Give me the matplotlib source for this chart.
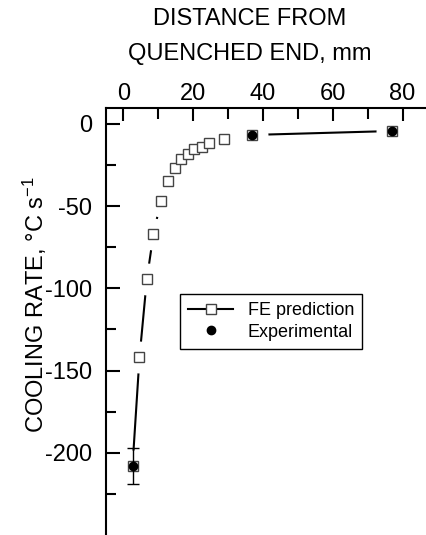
import numpy as np
import matplotlib
matplotlib.use("Agg")
import matplotlib.pyplot as plt

plt.rcParams['font.family'] = ['Liberation Sans', 'DejaVu Sans']
plt.rcParams['mathtext.fontset'] = 'custom'
plt.rcParams['mathtext.rm'] = 'Liberation Sans'
plt.rcParams['mathtext.it'] = 'Liberation Sans'
plt.rcParams['axes.unicode_minus'] = False

# FE prediction (distance from quenched end, mm / cooling rate, C/s)
fe_dist = [2.6, 4.6, 6.7, 8.6, 10.7, 12.7, 14.7, 16.5, 18.5, 20.3, 22.5, 24.6, 28.7, 36.8, 76.9]
fe_rate = [-208, -142, -94.5, -67, -47, -34.5, -27, -21.5, -18.3, -15.4, -13.8, -11.7, -9.3, -6.7, -4.3]

# experimental points
exp_dist = [2.6, 36.8, 76.9]
exp_rate = [-208, -6.7, -4.3]
exp_err = [11, 0, 0]

fig = plt.figure(figsize=(4.27, 5.35), dpi=100)
ax = fig.add_axes([106 / 427, 0, 321 / 427, 427 / 535])
ax.set_xlim(-5, 87)
ax.set_ylim(-250, 9.7)

# line with gaps round the markers (white masks under the squares)
ax.plot(fe_dist, fe_rate, color='black', lw=1.5, zorder=2)
ax.plot(fe_dist, fe_rate, ls='none', marker='o', ms=23, mfc='white', mec='none', zorder=2.2)
ax.plot(fe_dist, fe_rate, ls='none', marker='s', ms=7.2, mfc='white', mec='#444444', mew=1, zorder=3)

err = np.array(exp_err)
has = err > 0
ax.errorbar(np.array(exp_dist)[has], np.array(exp_rate)[has], yerr=err[has], fmt='none',
            ecolor='black', elinewidth=1, capsize=4.5, capthick=1, zorder=4)
ax.plot(exp_dist, exp_rate, ls='none', marker='o', ms=6, mfc='black', mec='black', zorder=4.5)

# legend handles
h1, = ax.plot([], [], color='black', lw=1.5, marker='s', ms=7.2, mfc='white', mec='#444444', mew=1)
h2, = ax.plot([], [], ls='none', marker='o', ms=6, mfc='black', mec='black')
leg = ax.legend([h1, h2], ['FE prediction', 'Experimental'], loc='upper left',
                bbox_to_anchor=(0.2305, 0.5644), borderaxespad=0, fontsize=13,
                handlelength=2.5, handletextpad=0.8, labelspacing=0.25, borderpad=0.45,
                fancybox=False, framealpha=1, edgecolor='black')
leg.get_frame().set_linewidth(1)
leg.set_zorder(6)

ax.set_axisbelow(False)
ax.spines['right'].set_visible(False)
ax.spines['bottom'].set_visible(False)
ax.spines['top'].set_linewidth(1.5)
ax.spines['left'].set_linewidth(1.5)

ax.xaxis.tick_top()
ax.set_xticks([0, 20, 40, 60, 80])
ax.set_xticks([10, 30, 50, 70], minor=True)
ax.set_yticks([0, -50, -100, -150, -200])
ax.set_yticks([-25, -75, -125, -175, -225], minor=True)
ax.tick_params(axis='x', which='both', top=True, bottom=False, direction='in', width=1.5,
               labelsize=17, pad=2.5)
ax.tick_params(axis='y', which='both', left=True, right=False, direction='in', width=1.5,
               labelsize=17, pad=10)
ax.tick_params(axis='x', which='major', length=9.5)
ax.tick_params(axis='x', which='minor', length=8)
ax.tick_params(axis='y', which='major', length=10)
ax.tick_params(axis='y', which='minor', length=7.5)

fig.text(250 / 427, 1 - 19 / 535, 'DISTANCE FROM', ha='center', va='center', fontsize=17)
fig.text(250 / 427, 1 - 54 / 535, 'QUENCHED END, mm', ha='center', va='center', fontsize=17)
fig.text(35 / 427, 1 - 305 / 535, 'COOLING RATE, °C s$^{-1}$', ha='center', va='center',
         rotation=90, fontsize=17)

fig.savefig('out.png', dpi=100)
